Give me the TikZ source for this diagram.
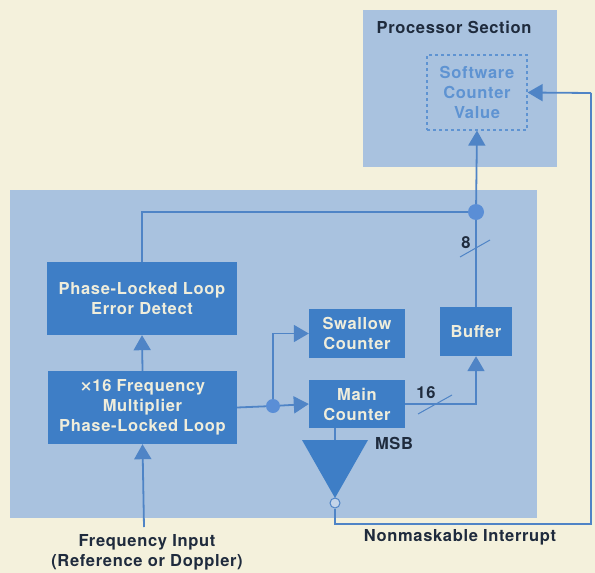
\documentclass[tikz,border=0pt]{standalone}
\usepackage{fontspec}
\setmainfont{TeX Gyre Heros}[LetterSpace=4]
\usetikzlibrary{arrows.meta}
\definecolor{cream}{HTML}{F4F1DC}
\definecolor{panelblue}{HTML}{A9C2DF}
\definecolor{boxblue}{HTML}{3E7EC6}
\definecolor{lineblue}{HTML}{4F84C6}
\definecolor{dotblue}{HTML}{5A8ED6}
\definecolor{boxtext}{HTML}{EFEDDB}
\definecolor{darktext}{HTML}{1F2B3D}
\definecolor{swtext}{HTML}{5E93D2}
\tikzset{
  lbl/.style={font=\fontsize{16.5}{20}\selectfont\bfseries, align=center, inner sep=0pt},
  darklbl/.style={lbl, text=darktext},
  panel/.style={fill=panelblue, inner sep=0pt},
  blk/.style={lbl, fill=boxblue, text=boxtext},
  conn/.style={draw=lineblue, line width=1.8pt},
  arr/.style={conn, -{Triangle[length=15pt,width=17pt]}},
  junc/.style={circle, fill=dotblue, inner sep=0pt},
  slashmark/.style={draw=lineblue, line width=1pt}
}
\begin{document}
\begin{tikzpicture}[x=1pt,y=-1pt]
\fill[cream] (0,0) rectangle (595,573);
\useasboundingbox (0,0) rectangle (595,573);
% panels
\node[panel, minimum width=194pt, minimum height=157pt] (proc) at (460,88.5) {};
\node[panel, minimum width=527pt, minimum height=328pt] (hw) at (273.5,354) {};
\node[darklbl] (proctitle) at (454,27) {Processor Section};
% software counter
\node[lbl, text=swtext, draw=swtext, dashed, line width=1.2pt, minimum width=100pt, minimum height=75pt] (sw) at (477,92.5) {Software\\Counter\\Value};
% blocks
\node[blk, minimum width=190pt, minimum height=73pt] (ped) at (142,298.5) {Phase-Locked Loop\\Error Detect};
\node[blk, minimum width=189pt, minimum height=73pt] (mult) at (142.5,407.5) {{\fontspec{DejaVu Sans}[LetterSpace=0]\bfseries\fontsize{15}{20}\selectfont ×}16 Frequency\\Multiplier\\Phase-Locked Loop};
\node[blk, minimum width=96pt, minimum height=49pt] (swallow) at (357,333.5) {Swallow\\Counter};
\node[blk, minimum width=96pt, minimum height=48pt] (main) at (357,404) {Main\\Counter};
\node[blk, minimum width=72pt, minimum height=49pt] (buffer) at (476,331.5) {Buffer};
% junctions
\node[junc, minimum size=16pt] (dot1) at (476,212) {};
\node[junc, minimum size=14pt] (dot2) at (273,406) {};
% MSB comparator triangle
\coordinate (triL) at (302,440);
\coordinate (triR) at (368,440);
\coordinate (triT) at (335,498);
\coordinate (triTop) at (335,440);
\fill[boxblue] (triL) -- (triR) -- (triT) -- cycle;
\node[circle, fill=panelblue!70!white, draw=lineblue, line width=1pt, minimum size=10pt, inner sep=0pt] (bub) at (335,503) {};
\node[darklbl] (msb) at (394,443) {MSB};
% external coordinates
\coordinate (fin) at (144,527);
\coordinate (nmiL) at (335,524);
\coordinate (nmiR) at (591,524);
\coordinate (nmiT) at (591,93);
% connectors
\draw[arr] (fin) -- (mult.south);
\draw[arr] (mult.north) -- (ped.south);
\draw[conn] (ped.north) |- (dot1);
\draw[arr] (dot1) -- (sw.south);
\draw[conn] (dot1) -- (buffer.north);
\draw[conn] (mult.east) -- (dot2);
\draw[arr] (dot2) -- (main.west);
\draw[arr] (dot2) |- (swallow.west);
\draw[arr] (main.east) -| (buffer.south);
\draw[conn] (main.south -| triTop) -- (triTop);
\draw[conn] (bub.south) -- (nmiL) -- (nmiR) -- (nmiT);
\draw[arr] (nmiT) -- (sw.east);
% bus width marks
\coordinate (s8a) at (460,257);
\coordinate (s8b) at (490,240);
\draw[slashmark] (s8a) -- (s8b);
\node[darklbl] (l8) at (466,243) {8};
\coordinate (s16a) at (418,414);
\coordinate (s16b) at (452,395);
\draw[slashmark] (s16a) -- (s16b);
\node[darklbl] (l16) at (426,393) {16};
% external labels
\node[darklbl] (finlbl) at (147,552) {Frequency Input\\(Reference or Doppler)};
\node[darklbl] (nmilbl) at (460,537) {Nonmaskable Interrupt};
\end{tikzpicture}
\end{document}
